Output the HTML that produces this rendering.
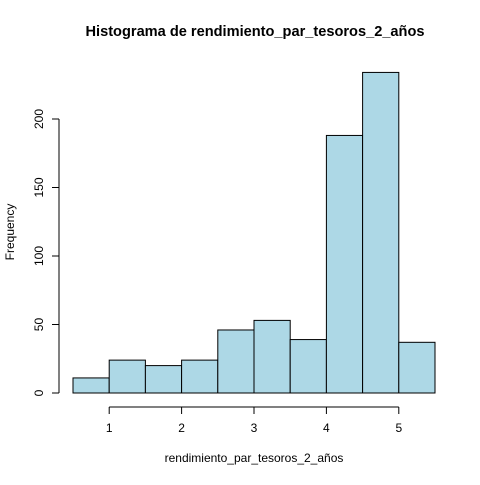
<!DOCTYPE html>
<html><head><meta charset="utf-8"><style>
body{margin:0;background:#fff}
svg text{font-family:"Liberation Sans",sans-serif;fill:#000}
</style></head><body>
<svg id="c" width="480" height="480" xmlns="http://www.w3.org/2000/svg">
<rect width="480" height="480" fill="#fff"/>
<text x="255" y="36" font-size="14.6" font-weight="bold" text-anchor="middle">Histograma de rendimiento_par_tesoros_2_años</text>
<text x="254" y="462" font-size="12" text-anchor="middle">rendimiento_par_tesoros_2_años</text>
<text x="14" y="232" font-size="12" text-anchor="middle" transform="rotate(-90 14 232)">Frequency</text>
<g id="bars"></g><g id="xa"></g><g id="ya"></g>
</svg>
<script>
const breaks=[0.5,1,1.5,2,2.5,3,3.5,4,4.5,5,5.5];
const counts=[11,24,20,24,46,53,39,188,234,37];
const xTicks=[1,2,3,4,5];
const yTicks=[0,50,100,150,200];
const NS="http://www.w3.org/2000/svg";
const X=v=>73+(v-0.5)*72.4;
const Y=v=>393-v*1.37;
function mk(t,a,p){const e=document.createElementNS(NS,t);for(const k in a)e.setAttribute(k,a[k]);p.appendChild(e);return e;}
const bars=document.getElementById('bars');
counts.forEach((c,i)=>{
 const r=mk('rect',{x:X(breaks[i]),y:Y(c),width:X(breaks[i+1])-X(breaks[i]),height:Y(0)-Y(c),fill:'#add8e6',stroke:'#000','stroke-width':1},bars);
 
 
});
const xa=document.getElementById('xa');


mk('line',{x1:X(xTicks[0]),x2:X(xTicks[xTicks.length-1]),y1:407,y2:407,stroke:'#000'},xa);
xTicks.forEach(t=>{
 mk('line',{x1:X(t),x2:X(t),y1:407,y2:414,stroke:'#000'},xa);
 const tx=mk('text',{x:X(t),y:432,'font-size':12,'text-anchor':'middle'},xa);tx.textContent=t;
 
 
});
const ya=document.getElementById('ya');


mk('line',{x1:59,x2:59,y1:Y(yTicks[0]),y2:Y(yTicks[yTicks.length-1]),stroke:'#000'},ya);
yTicks.forEach(t=>{
 mk('line',{x1:52,x2:59,y1:Y(t),y2:Y(t),stroke:'#000'},ya);
 const tx=mk('text',{x:43,y:Y(t),'font-size':12,'text-anchor':'middle',transform:`rotate(-90 43 ${Y(t)})`},ya);tx.textContent=t;
 
 
});
</script>
</body></html>
